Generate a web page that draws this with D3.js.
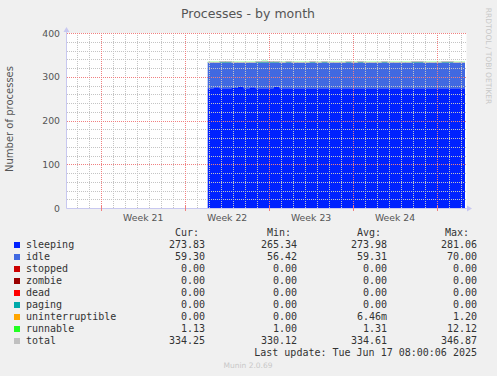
<!DOCTYPE html>
<meta charset="utf-8" />
<style>
  body { margin: 0; background: #f0f0f0; }
  text { font-family: "DejaVu Sans", sans-serif; }
  .mono { font-family: "DejaVu Sans Mono", monospace; font-size: 10px; fill: #333; }
</style>
<body>
<script src="https://d3js.org/d3.v7.min.js"></script>
<script>
// samples every 12 hours, starting from the first recorded point
const firstSample = "2025-05-26T21:00:00Z";
const sleeping = [274, 276, 274, 274, 274.5, 276.5, 274, 276, 274, 273.5, 274, 277, 274,
  273.8, 273.6, 274, 273.8, 273.7, 274, 273.9, 273.6, 273.8, 274, 273.7, 273.9, 273.8,
  273.6, 274, 273.8, 273.9, 273.7, 274, 273.8, 273.6, 273.9, 273.8, 274, 273.7, 273.8,
  273.9, 273.6, 273.8, 273.9, 273.8];
const idle = [59, 57, 59.2, 59.1, 58.6, 56.8, 59.2, 57.1, 59.1, 59.6, 59.1, 56.4, 59.2,
  59.3, 59.5, 59.1, 59.3, 59.4, 59.1, 59.2, 59.5, 59.3, 59.1, 59.4, 59.2, 59.3,
  59.5, 59.1, 59.3, 59.2, 59.4, 59.1, 59.3, 59.5, 59.2, 59.3, 59.1, 59.4, 59.3,
  59.2, 59.5, 59.3, 59.2, 59.3];
const runnable = [1.1, 1.2, 3, 2.5, 1.1, 1.2, 1.1, 1.3, 2.5, 3.5, 3, 2.5, 1.1,
  2, 1.1, 1.2, 1.1, 2, 1.1, 2, 1.2, 1.1, 1.1, 2, 1.1, 2.5,
  1.1, 1.2, 1.1, 2, 1.1, 1.2, 1.1, 1.1, 2, 2, 1.1, 1.2, 1.1,
  2, 2, 1.1, 1.2, 1.13];
const total = [334.1, 334.2, 336.2, 335.6, 334.2, 334.5, 334.3, 334.4, 335.6, 336.6, 336.1, 335.9, 334.3,
  335.1, 334.2, 334.3, 334.2, 335.1, 334.2, 335.1, 334.3, 334.2, 334.2, 335.1, 334.2, 335.6,
  334.2, 334.3, 334.2, 335.1, 334.2, 334.3, 334.2, 334.2, 335.1, 335.1, 334.2, 334.3, 334.2,
  335.1, 335.1, 334.2, 334.3, 334.25];

const legendNames = ["sleeping", "idle", "stopped", "zombie", "dead", "paging", "uninterruptible", "runnable", "total"];
const legendColors = ["#0022ff", "#4169e1", "#cc0000", "#990000", "#ff0000", "#00aaaa", "#ffa500", "#22ff22", "#c0c0c0"];
const curVals = ["273.83", "59.30", "0.00", "0.00", "0.00", "0.00", "0.00", "1.13", "334.25"];
const minVals = ["265.34", "56.42", "0.00", "0.00", "0.00", "0.00", "0.00", "1.00", "330.12"];
const avgVals = ["273.98", "59.31", "0.00", "0.00", "0.00", "0.00", "6.46m", "1.31", "334.61"];
const maxVals = ["281.06", "70.00", "0.00", "0.00", "0.00", "0.00", "1.20", "12.12", "346.87"];
const yTicks = [0, 100, 200, 300, 400];

const W = 497, H = 376;
const svg = d3.select("body").append("svg").attr("width", W).attr("height", H);
svg.append("rect").attr("width", W).attr("height", H).attr("fill", "#f0f0f0");

const x = d3.scaleUtc()
  .domain([new Date("2025-05-15T02:24:00Z"), new Date("2025-06-17T11:00:00Z")])
  .range([66.5, 466.5]);
const y = d3.scaleLinear().domain([0, 400]).range([208, 33]);

svg.append("rect")
  .attr("x", x.range()[0]).attr("y", y(400))
  .attr("width", x.range()[1] - x.range()[0]).attr("height", y(0) - y(400))
  .attr("fill", "#fff");

const t0 = new Date(firstSample);
const data = sleeping.map((s, i) => ({
  t: d3.utcHour.offset(t0, 12 * i),
  sleeping: s, idle: idle[i], runnable: runnable[i], total: total[i]
}));
data[data.length - 1].t = new Date("2025-06-17T08:00:00Z");

const stack = d3.stack().keys(["sleeping", "idle", "runnable"]);
const series = stack(data);
const area = d3.area()
  .curve(d3.curveStepAfter)
  .x(d => x(d.data.t))
  .y0(d => y(d[0]))
  .y1(d => y(d[1]));

svg.append("g").selectAll("path")
  .data(series)
  .join("path")
  .attr("fill", (d, i) => legendColors[[0, 1, 7][i]])
  .attr("d", area);

svg.append("path")
  .datum(data)
  .attr("fill", "none")
  .attr("stroke", "#c0c0c0")
  .attr("stroke-width", 1)
  .attr("d", d3.line().curve(d3.curveStepAfter).x(d => x(d.t)).y(d => Math.round(y(d.total)) + 0.5));

// grid: dotted 1px lines, dashes start on whole pixels so every dot is crisp
const minorCol = "#c4c4c4", majorCol = "#f08080";
const grid = svg.append("g");
const days = d3.utcDay.range(x.domain()[0], x.domain()[1]);
const weeks = days.filter(d => d.getUTCDay() === 0);
const px = v => Math.round(v) + 0.5;

grid.selectAll("line.vminor")
  .data(days.filter(d => d.getUTCDay() !== 0))
  .join("line")
  .attr("class", "vminor")
  .attr("x1", d => px(x(d))).attr("x2", d => px(x(d)))
  .attr("y1", 33).attr("y2", 208)
  .attr("stroke", minorCol)
  .attr("stroke-dasharray", "1,1");
grid.selectAll("line.hminor")
  .data(d3.range(20, 401, 20).filter(v => v % 100 !== 0))
  .join("line")
  .attr("class", "hminor")
  .attr("x1", 67).attr("x2", 467)
  .attr("y1", d => px(y(d))).attr("y2", d => px(y(d)))
  .attr("stroke", minorCol)
  .attr("stroke-dasharray", "1,1");
grid.selectAll("line.vmajor")
  .data(weeks)
  .join("line")
  .attr("class", "vmajor")
  .attr("x1", d => px(x(d))).attr("x2", d => px(x(d)))
  .attr("y1", 33).attr("y2", 208)
  .attr("stroke", majorCol)
  .attr("stroke-dasharray", "1,1");
grid.selectAll("line.hmajor")
  .data(yTicks.filter(v => v > 0))
  .join("line")
  .attr("class", "hmajor")
  .attr("x1", 67).attr("x2", 467)
  .attr("y1", d => px(y(d))).attr("y2", d => px(y(d)))
  .attr("stroke", majorCol)
  .attr("stroke-dasharray", "1,1");

// axes
const axisCol = "#c8c8f0";
const ax = svg.append("g");
ax.append("line").attr("x1", 66.5).attr("x2", 466.5).attr("y1", 208.5).attr("y2", 208.5).attr("stroke", axisCol);
ax.append("line").attr("x1", 66.5).attr("x2", 66.5).attr("y1", 30).attr("y2", 208.5).attr("stroke", axisCol);
ax.append("path").attr("d", "M467,205.5L472,208.5L467,211.5Z").attr("fill", axisCol);
ax.append("path").attr("d", "M63.5,32L66.5,27L69.5,32Z").attr("fill", axisCol);
ax.selectAll("line.wt")
  .data(weeks)
  .join("line")
  .attr("class", "wt")
  .attr("x1", d => px(x(d))).attr("x2", d => px(x(d)))
  .attr("y1", 206).attr("y2", 211)
  .attr("stroke", majorCol);

const weekLabels = ["Week 21", "Week 22", "Week 23", "Week 24"];
svg.append("g").selectAll("text")
  .data(weekLabels)
  .join("text")
  .attr("x", (d, i) => (x(weeks[i]) + x(weeks[i + 1])) / 2)
  .attr("y", 221)
  .attr("text-anchor", "middle")
  .attr("font-size", 9.3)
  .attr("fill", "#555")
  .text(d => d);

svg.append("g").selectAll("text")
  .data(yTicks)
  .join("text")
  .attr("x", 60)
  .attr("y", d => y(d) + 3.5)
  .attr("text-anchor", "end")
  .attr("font-size", 9.3)
  .attr("fill", "#555")
  .text(d => d);

svg.append("text")
  .attr("x", 248).attr("y", 18)
  .attr("text-anchor", "middle")
  .attr("font-size", 12.5)
  .attr("fill", "#555")
  .text("Processes - by month");

svg.append("text")
  .attr("transform", "translate(12.5,119) rotate(-90)")
  .attr("text-anchor", "middle")
  .attr("font-size", 10)
  .attr("fill", "#555")
  .text("Number of processes");

svg.append("text")
  .attr("transform", "translate(485.5,56) rotate(90)")
  .attr("text-anchor", "middle")
  .attr("font-size", 7.5)
  .attr("fill", "#c8c8c8")
  .text("RRDTOOL / TOBI OETIKER");

// legend
const lg = svg.append("g");
const headers = [["Cur:", 199], ["Min:", 291], ["Avg:", 381], ["Max:", 469]];
lg.selectAll("text.h")
  .data(headers)
  .join("text")
  .attr("class", "mono")
  .attr("x", d => d[1]).attr("y", 235.5)
  .attr("text-anchor", "end")
  .text(d => d[0]);

const rows = lg.selectAll("g.row")
  .data(legendNames)
  .join("g")
  .attr("transform", (d, i) => `translate(0,${248 + i * 12})`);
rows.append("rect")
  .attr("x", 14).attr("y", -6).attr("width", 6).attr("height", 6)
  .attr("fill", (d, i) => legendColors[i]);
rows.append("text").attr("class", "mono").attr("x", 26).text(d => d);
const cols = [[curVals, 205], [minVals, 297], [avgVals, 387], [maxVals, 477]];
cols.forEach(([vals, cx]) => {
  rows.append("text").attr("class", "mono")
    .attr("x", cx).attr("text-anchor", "end")
    .text((d, i) => vals[i]);
});

lg.append("text").attr("class", "mono")
  .attr("x", 477).attr("y", 355.5).attr("text-anchor", "end")
  .text("Last update: Tue Jun 17 08:00:06 2025");

svg.append("text")
  .attr("x", 248).attr("y", 368)
  .attr("text-anchor", "middle")
  .attr("font-size", 7.5)
  .attr("fill", "#c8c8c8")
  .text("Munin 2.0.69");
</script>
</body>
